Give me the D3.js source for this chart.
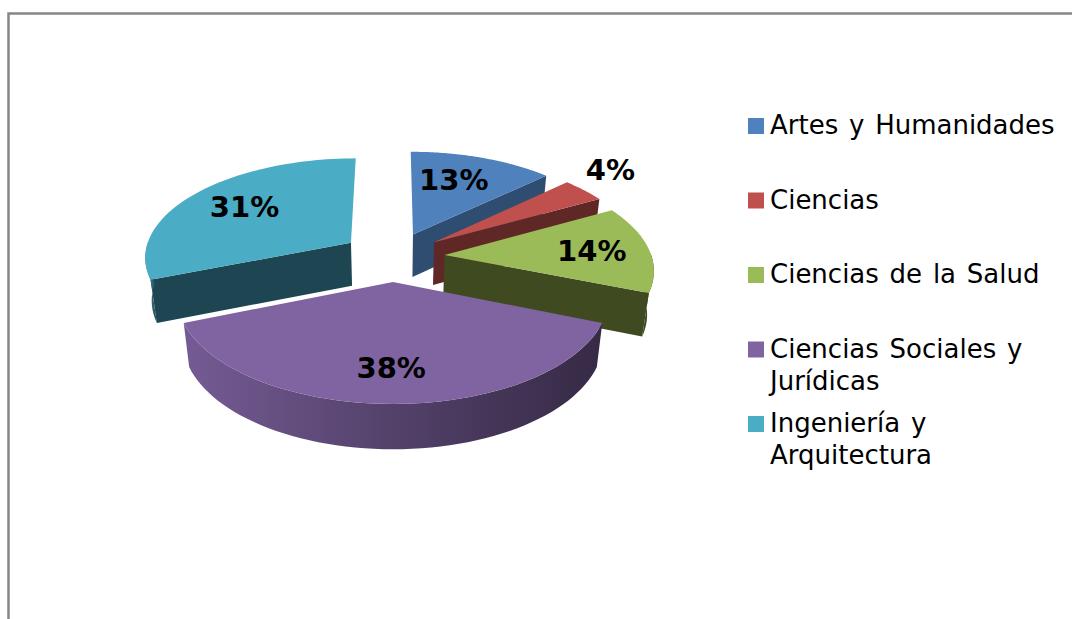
<!DOCTYPE html>
<html><head><meta charset="utf-8">
<script src="https://cdn.jsdelivr.net/npm/d3@7/dist/d3.min.js"></script>
<style>html,body{margin:0;padding:0;background:#fff}svg{display:block}text{font-family:"DejaVu Sans",sans-serif}</style>
</head><body><svg id="c" width="1072" height="619"></svg>
<script>
const categories = ["Artes y Humanidades","Ciencias","Ciencias de la Salud","Ciencias Sociales y Jurídicas","Ingeniería y Arquitectura"];
const legendLines = [["Artes y Humanidades"],["Ciencias"],["Ciencias de la Salud"],["Ciencias Sociales y","Jurídicas"],["Ingeniería y","Arquitectura"]];
const values = [13,4,14,38,31];
const topColors = ["#4f81bd","#c0504d","#9bbb59","#8064a2","#4bacc6"];
const wallColors = ["#2f4d71","#5f2725","#3f4a20","#4a3a60","#1e4552"];

// layout constants
const cx=393, cy=256.5, R=207, Ry=98.8, k=0.13, explode=0.25, depth=43, shrink=0.026;
const labelRadius=[0.674,1.3,0.72,0.73,0.686], labelNudge=[-3.7,-4.8,0,0.6,1];
const rad=Math.PI/180;

const svg=d3.select("#c");
svg.append("path").attr("d",d3.line()([[8.5,619],[8.5,13.5],[1072,13.5]])).attr("fill","none").attr("stroke","#868686").attr("stroke-width",2.5);

const arcs=d3.pie().sort(null).value(d=>d)(values);
// perspective projection of a world point on the pie's plane; z=1 is the bottom
const proj=(X,V,z=0)=>{
  const p=1/(1+k*V);
  return [cx+R*X*p*(1-shrink*z), cy-Ry*V*p+depth*Math.pow(p,0.3)*z];
};
const line=d3.line();
const defs=svg.append("defs");

function solid(d,i){
  const a0=d.startAngle,a1=d.endAngle,mid=(a0+a1)/2;
  const ax=explode*Math.sin(mid),ay=explode*Math.cos(mid);
  const pt=(a,z=0)=>proj(ax+Math.sin(a),ay+Math.cos(a),z);
  const apex=(z=0)=>proj(ax,ay,z);
  const angles=d3.range(0,61).map(j=>a0+(a1-a0)*j/60);
  const g=svg.append("g");
  // radial walls: only those clearly facing the viewer
  [a0,a1].forEach(a=>{
    const poly=[apex(0),pt(a,0),pt(a,1),apex(1)];
    if(d3.polygonArea(poly)*(a===a0?1:-1)>300){
      g.append("path").attr("d",line(poly)+"Z").attr("fill",wallColors[i]);
    }
  });
  // outer wall: the part of the rim in the front half
  const front=angles.filter(a=>Math.cos(a)<0.02);
  if(front.length>1){
    const poly=front.map(a=>pt(a,0)).concat(front.slice().reverse().map(a=>pt(a,1)));
    const xs=poly.map(q=>q[0]);
    const id="w"+i;
    const grad=defs.append("linearGradient").attr("id",id).attr("gradientUnits","userSpaceOnUse")
      .attr("x1",d3.min(xs)).attr("x2",d3.max(xs)).attr("y1",0).attr("y2",0);
    const base=d3.color(topColors[i]);
    if(i===3){
      grad.append("stop").attr("offset",0).attr("stop-color",base.darker(0.25));
      grad.append("stop").attr("offset",0.5).attr("stop-color",base.darker(1.2));
      grad.append("stop").attr("offset",1).attr("stop-color",base.darker(2.4));
    } else if(i===4){
      grad.append("stop").attr("offset",0).attr("stop-color","#4596ad");
      grad.append("stop").attr("offset",1).attr("stop-color",wallColors[i]);
    } else {
      grad.append("stop").attr("offset",0).attr("stop-color",wallColors[i]);
      grad.append("stop").attr("offset",1).attr("stop-color",wallColors[i]);
    }
    g.append("path").attr("d",line(poly)+"Z").attr("fill",`url(#${id})`);
  }
  // top
  g.append("path").attr("d",line([apex(0)].concat(angles.map(a=>pt(a,0))))+"Z").attr("fill",topColors[i]);
}
[0,1,2,4,3].forEach(i=>solid(arcs[i],i));

// percent labels
const total=d3.sum(values);
arcs.forEach((d,i)=>{
  const mid=(d.startAngle+d.endAngle)/2;
  const ax=explode*Math.sin(mid),ay=explode*Math.cos(mid);
  const a=mid+labelNudge[i]*rad;
  const q=proj(ax+labelRadius[i]*Math.sin(a),ay+labelRadius[i]*Math.cos(a));
  svg.append("text").attr("x",q[0]).attr("y",q[1]).attr("dy","0.36em").attr("text-anchor","middle")
    .attr("font-size",29).attr("font-weight","bold").attr("fill","#000")
    .text(Math.round(d.value/total*100)+"%");
});

// legend
const legendY=d3.scalePoint().domain(categories).range([134,432]);
const lg=svg.append("g");
categories.forEach((c,i)=>{
  const y=legendY(c);
  lg.append("rect").attr("x",748).attr("y",y-16).attr("width",16).attr("height",16).attr("fill",topColors[i]);
  legendLines[i].forEach((t,j)=>{
    lg.append("text").attr("x",770).attr("y",y+j*32).attr("font-size",26).attr("fill","#000").attr("word-spacing",2.5).text(t);
  });
});
</script></body></html>
